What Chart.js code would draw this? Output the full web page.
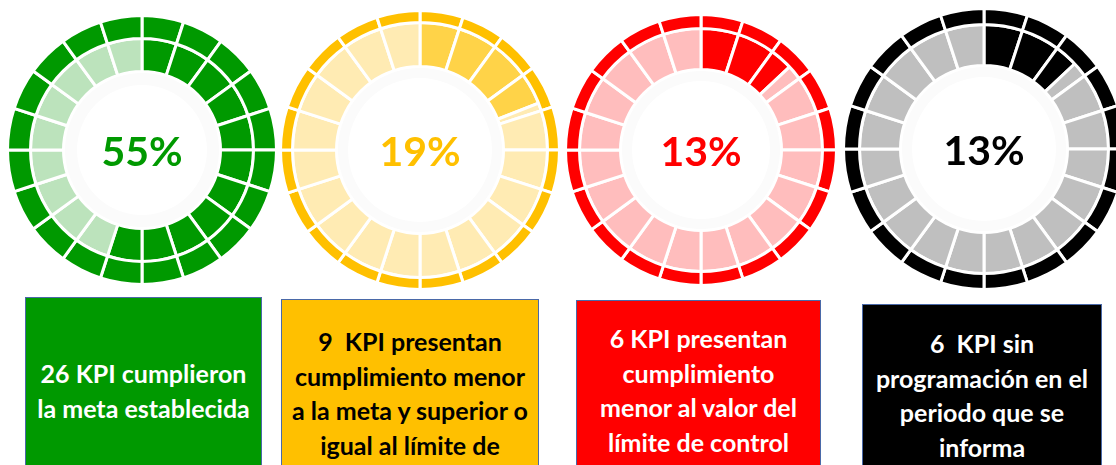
<!DOCTYPE html>
<html>
<head>
<meta charset="utf-8">
<script src="https://cdn.jsdelivr.net/npm/chart.js@4/dist/chart.umd.min.js"></script>
<style>
  html, body { margin: 0; padding: 0; background: #fff; }
  body { width: 1116px; height: 465px; overflow: hidden; position: relative; font-family: Lato, "Open Sans", sans-serif; }
  .gauge { position: absolute; width: 300px; height: 300px; }
  .pct { position: absolute; left: 0; top: 0; width: 300px; height: 300px; display: flex; align-items: center; justify-content: center; font-weight: 700; font-size: 41px; pointer-events: none; }
  .box { position: absolute; height: 200px; border: 1px solid #4a69a8; box-sizing: border-box; text-align: center; font-weight: 700; font-size: 25px; line-height: 34.5px; white-space: nowrap; }
</style>
</head>
<body>
<script>
// DATOS DE LOS INDICADORES
const pcts = [55, 19, 13, 13];
const kpiCounts = [26, 9, 6, 6];
const boxLines = [
  [" KPI cumplieron", "la meta establecida"],
  ["  KPI presentan", "cumplimiento menor", "a la meta y superior o", "igual al límite de"],
  [" KPI presentan", "cumplimiento", "menor al valor del", "límite de control"],
  ["  KPI sin", "programación en el", "periodo que se", "informa"],
];
const segments = 20;

// ESTILOS DE CADA TARJETA
const darkColors = ["#009900", "#FFC000", "#FF0000", "#000000"];
const fillColors = ["#009900", "#FFD348", "#FF0000", "#000000"];
const lightColors = ["#BCE3BC", "#FFEBB3", "#FFBDBD", "#BFBFBF"];
const textColors = ["#fff", "#000", "#fff", "#fff"];
const centers = [[142, 150], [420, 150], [701, 150], [984, 149]];
const radii = [133, 138, 134, 139];
const bands = [[20, 30, 12], [9, 41, 10], [11, 38, 10], [13, 38, 10]];
const boxes = [[25, 297, 237], [281, 299, 258], [576, 300, 245], [862, 304, 240]];
const boxPad = [58, 24, 20, 21];

const bw = 3;

// SEPARA EL ANILLO INTERIOR EN SEGMENTOS, CORTANDO EL QUE CONTIENE EL PORCENTAJE
const progressRing = (pct, dark, light) => {
  const step = 100 / segments;
  const data = [];
  const colors = [];
  for (let i = 0; i < segments; i++) {
    const a = i * step;
    const b = a + step;
    if (pct >= b) {
      data.push(step); colors.push(dark);
    } else if (pct <= a) {
      data.push(step); colors.push(light);
    } else {
      data.push(pct - a); colors.push(dark);
      data.push(b - pct); colors.push(light);
    }
  }
  return { data, colors };
};

pcts.forEach((pct, i) => {
  const [cx, cy] = centers[i];
  const div = document.createElement("div");
  div.className = "gauge";
  div.style.left = cx - 150 + "px";
  div.style.top = cy - 150 + "px";
  const canvas = document.createElement("canvas");
  div.appendChild(canvas);
  const label = document.createElement("div");
  label.className = "pct";
  label.style.color = darkColors[i];
  label.innerText = pct + "%";
  div.appendChild(label);
  document.body.appendChild(div);

  const [o, inn, f] = bands[i];
  const tO = o + bw, tI = inn + bw, tF = f + bw / 2;
  const outerR = radii[i] + bw / 2;
  const innerR = outerR - tO - tI - tF;
  const ring = progressRing(pct, fillColors[i], lightColors[i]);

  new Chart(canvas, {
    type: "doughnut",
    data: {
      datasets: [
        {
          data: Array(segments).fill(100 / segments),
          backgroundColor: darkColors[i],
          borderColor: "#fff",
          borderWidth: bw,
          weight: tO,
        },
        {
          data: ring.data,
          backgroundColor: ring.colors,
          borderColor: "#fff",
          borderWidth: bw,
          weight: tI,
        },
        {
          data: [100],
          backgroundColor: "#fbfbfb",
          borderWidth: 0,
          weight: tF,
        },
      ],
    },
    options: {
      responsive: true,
      maintainAspectRatio: false,
      animation: false,
      events: [],
      radius: outerR,
      cutout: (innerR / outerR) * 100 + "%",
      plugins: { legend: { display: false }, tooltip: { enabled: false } },
    },
  });

  // CAJA DE TEXTO DEBAJO DEL INDICADOR
  const [bx, by, bwid] = boxes[i];
  const box = document.createElement("div");
  box.className = "box";
  box.style.left = bx + "px";
  box.style.top = by + "px";
  box.style.width = bwid + "px";
  box.style.background = darkColors[i];
  box.style.color = textColors[i];
  box.style.paddingTop = boxPad[i] + "px";
  box.innerHTML = boxLines[i]
    .map((line, j) => (j === 0 ? kpiCounts[i] + line : line))
    .join("<br>")
    .replace(/  /g, "&nbsp; ");
  document.body.appendChild(box);
});
</script>
</body>
</html>
